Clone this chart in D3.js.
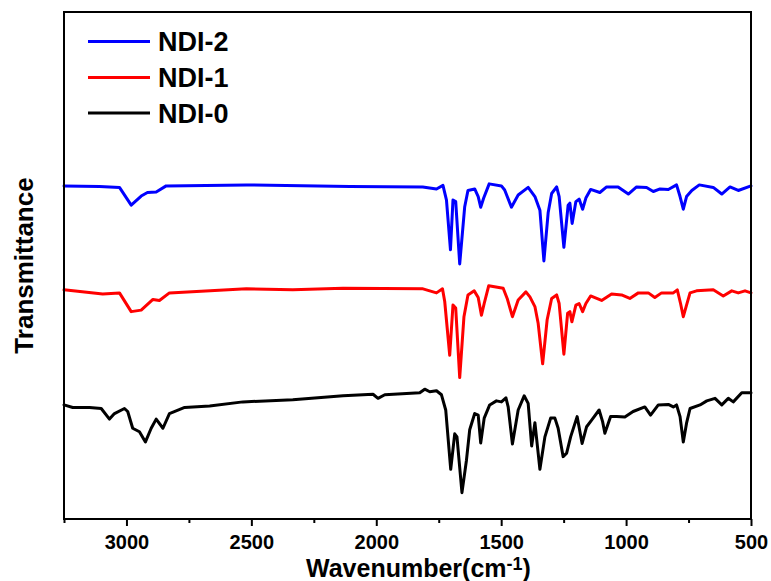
<!DOCTYPE html>
<html>
<head>
<meta charset="utf-8">
<script src="https://cdn.jsdelivr.net/npm/d3@7"></script>
<style>
  html, body { margin: 0; padding: 0; background: #fff; }
  svg { display: block; }
  text { font-family: "Liberation Sans", Arial, sans-serif; font-weight: bold; }
</style>
</head>
<body>
<svg id="chart" width="771" height="581"></svg>
<script>
// ---- data (wavenumber in cm-1, transmittance in arbitrary offset units) ----
const seriesNames = ["NDI-2", "NDI-1", "NDI-0"];
const seriesColors = ["#0000ff", "#ff0000", "#000000"];

const ndi2Wave = [3250,3108,3028,2981,2941,2916,2881,2841,2520,2106,1814,1759,1733,1719,1703,1693,1682,1666,1646,1633,1606,1592,1582,1570,1548,1499,1486,1459,1432,1392,1365,1345,1329,1312,1298,1278,1268,1249,1232,1225,1216,1201,1188,1174,1161,1142,1105,1078,1032,991,958,918,891,864,831,798,784,771,758,737,707,651,617,584,551,500];
const ndi2T    = [65.7,65.6,65.4,61.9,63.7,64.4,64.5,65.7,65.9,65.6,65.5,65.1,65.8,62.9,53.1,62.9,62.6,50.3,61.6,64.8,65.1,63.6,61.5,63.3,66.1,65.7,64.9,61.5,63.9,65.4,63.6,60.9,50.9,60.4,64.2,65.5,63.6,53.6,61.9,62.3,58.3,62.6,63.1,61.1,63.3,65.0,64.4,65.5,65.5,64.1,65.5,65.4,64.6,65.1,65.0,65.9,63.6,61.1,63.6,64.8,65.9,65.4,64.1,65.5,64.8,65.7];

const ndi1Wave = [3250,3095,3028,2981,2941,2894,2868,2828,2520,2334,2133,1813,1759,1735,1726,1706,1693,1682,1666,1649,1633,1608,1592,1579,1568,1550,1492,1476,1455,1432,1401,1385,1365,1352,1334,1316,1298,1278,1268,1249,1234,1225,1217,1201,1188,1174,1161,1142,1098,1058,1018,985,951,911,885,858,811,795,782,771,758,744,718,651,611,577,551,524,500];
const ndi1T    = [45.2,44.4,44.6,40.9,41.2,43.3,43.1,44.6,45.4,45.2,45.5,45.4,44.6,45.4,42.9,32.3,42.2,41.6,27.9,39.9,44.2,45.0,43.7,40.2,42.5,46.0,45.5,43.5,39.9,43.2,44.8,43.8,41.9,38.6,30.6,39.3,43.5,44.2,42.5,32.5,40.6,40.9,38.9,42.2,42.5,40.9,42.5,44.0,43.1,44.4,44.2,43.5,44.6,44.6,43.7,44.6,44.6,45.2,42.5,39.9,42.2,44.6,45.0,45.2,44.0,45.0,44.6,45.0,44.6];

const ndi0Wave = [3250,3215,3148,3101,3068,3048,3008,2995,2975,2948,2924,2901,2881,2854,2828,2767,2667,2534,2334,2133,2013,1993,1966,1826,1806,1786,1759,1739,1722,1702,1686,1677,1657,1639,1626,1606,1592,1582,1568,1546,1519,1499,1481,1472,1455,1432,1408,1392,1378,1365,1345,1325,1302,1285,1272,1252,1238,1222,1196,1176,1158,1138,1108,1094,1085,1062,1038,1005,972,925,902,871,831,811,798,784,771,758,744,704,677,644,617,591,571,537,500];
const ndi0T    = [22.5,22.0,22.0,21.8,19.7,20.8,21.8,21.2,17.9,17.2,15.2,17.9,19.7,17.9,20.8,22.0,22.3,23.1,23.5,24.3,24.6,23.8,24.5,24.9,25.6,25.1,25.3,24.5,21.5,9.8,16.8,16.2,5.2,11.6,17.6,20.8,20.5,15.0,19.9,22.5,23.3,23.1,23.9,22.1,14.8,21.5,24.3,22.8,14.4,19.0,9.8,16.2,19.9,19.9,17.9,12.3,13.0,16.2,20.2,14.9,18.2,19.5,21.5,19.2,16.9,20.2,20.2,20.1,21.2,22.1,20.5,22.5,22.6,22.1,22.5,20.2,15.2,18.9,21.8,22.5,23.3,23.8,22.5,23.8,23.1,24.9,24.9];

const xMajorTicks = [3000, 2500, 2000, 1500, 1000, 500];
const xMinorTicks = [3250, 2750, 2250, 1750, 1250, 750];
const xDomain = [3250, 500];
const yDomain = [0, 100];

// ---- layout ----
const svg = d3.select("#chart");
const L = 64, R = 751, T = 12, B = 519;

const x = d3.scaleLinear().domain(xDomain).range([L, R]);
const y = d3.scaleLinear().domain(yDomain).range([B, T]);

const series = [
  { name: seriesNames[0], color: seriesColors[0], w: ndi2Wave, t: ndi2T },
  { name: seriesNames[1], color: seriesColors[1], w: ndi1Wave, t: ndi1T },
  { name: seriesNames[2], color: seriesColors[2], w: ndi0Wave, t: ndi0T }
];

const line = d3.line().x(d => x(d[0])).y(d => y(d[1]));

svg.append("g").selectAll("path").data(series).join("path")
  .attr("d", s => line(s.w.map((w, i) => [w, s.t[i]])))
  .attr("fill", "none")
  .attr("stroke", s => s.color)
  .attr("stroke-width", 3)
  .attr("stroke-linejoin", "round")
  .attr("stroke-linecap", "round");

// frame
svg.append("rect")
  .attr("x", L).attr("y", T).attr("width", R - L).attr("height", B - T)
  .attr("fill", "none").attr("stroke", "#000").attr("stroke-width", 2);

// minor ticks
const minorAxis = svg.append("g").attr("transform", `translate(0,${B})`)
  .call(d3.axisBottom(x).tickValues(xMinorTicks).tickSize(4).tickFormat(""));
minorAxis.select(".domain").remove();
minorAxis.selectAll("line").attr("stroke-width", 2);

// major ticks
const majorAxis = svg.append("g").attr("transform", `translate(0,${B})`)
  .call(d3.axisBottom(x).tickValues(xMajorTicks).tickSize(7).tickPadding(9).tickFormat(d3.format("d")));
majorAxis.select(".domain").remove();
majorAxis.selectAll("line").attr("stroke-width", 2);
majorAxis.selectAll("text")
  .attr("font-size", 20).attr("fill", "#000")
  .attr("font-family", "'Liberation Sans', Arial, sans-serif").attr("font-weight", "bold");

// x title
const xt = svg.append("text").attr("x", 306).attr("y", 577).attr("font-size", 25).attr("fill", "#000");
xt.append("tspan").text("Wavenumber(cm");
xt.append("tspan").attr("dy", -7).attr("font-size", 18).text("-1");
xt.append("tspan").attr("dy", 7).text(")");

// y title
svg.append("text")
  .attr("transform", `translate(33,${(T + B) / 2}) rotate(-90)`)
  .attr("text-anchor", "middle")
  .attr("font-size", 26).attr("fill", "#000")
  .text("Transmittance");

// legend
const legendY = [41.5, 77.5, 113];
const lg = svg.append("g").selectAll("g").data(series).join("g")
  .attr("transform", (d, i) => `translate(88,${legendY[i]})`);
lg.append("line").attr("x1", 0).attr("x2", 62).attr("y1", 0).attr("y2", 0)
  .attr("stroke", d => d.color).attr("stroke-width", 3);
lg.append("text").attr("x", 70).attr("y", 0).attr("dy", "0.36em")
  .attr("font-size", 27).attr("fill", "#000").text(d => d.name);
</script>
</body>
</html>
